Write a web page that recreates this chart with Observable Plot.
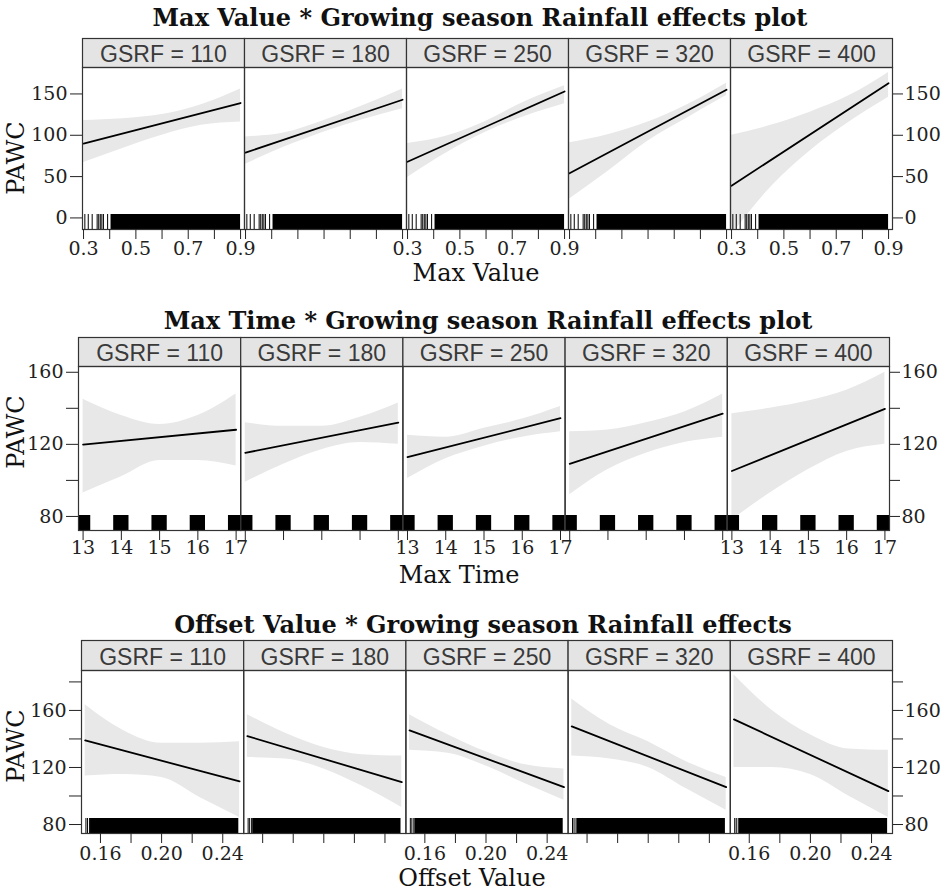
<!DOCTYPE html>
<html><head><meta charset="utf-8">
<script src="https://cdn.jsdelivr.net/npm/d3@7"></script>
<script src="https://cdn.jsdelivr.net/npm/@observablehq/plot@0.6"></script>
<style>
body{margin:0;background:#fff;}
#wrap{position:relative;width:942px;height:892px;overflow:hidden;background:#fff;}
.t{position:absolute;white-space:nowrap;font-family:"DejaVu Serif",serif;color:#111;line-height:1;}
.title{font-weight:bold;font-size:24px;transform:translateX(-50%);}
.xl{font-size:24px;transform:translateX(-50%);}
.yl{font-size:24px;transform:translate(-50%,-50%) rotate(-90deg);}
#wrap svg{position:absolute;left:0;}
</style></head><body><div id="wrap"></div>
<script>
// ---------- data ----------
const gsrf = [110, 180, 250, 320, 400];
const labelPanels = [110, 250, 400];

// Row 1: Max Value
const mvTitle = "Max Value * Growing season Rainfall effects plot";
const mvXLabel = "Max Value";
const mvX = [0.30, 0.45, 0.60, 0.75, 0.90];
const mvFit = [[90, 139], [79, 143], [68, 153], [54, 155], [39, 163]];
const mvUpper = [
  [118, 120, 125, 137, 156],
  [98, 103, 118, 136, 156],
  [90, 99, 117, 141, 160],
  [91, 101, 116, 137, 163],
  [100, 112, 128, 148, 176]
];
const mvLower = [
  [67, 84, 100, 112, 116],
  [65, 86, 104, 119, 132],
  [49, 79, 104, 123, 138],
  [23, 57, 93, 121, 148],
  [-21, 37, 81, 116, 146]
];
const mvTicks = [0.3, 0.4, 0.5, 0.6, 0.7, 0.8, 0.9];
const mvTickLabels = [0.3, 0.5, 0.7, 0.9];
const mvYTicks = [0, 50, 100, 150];
const mvYLabels = [0, 50, 100, 150];
const mvRugTicks = [0.305, 0.318, 0.333, 0.352, 0.358, 0.364, 0.37, 0.376, 0.392];
const mvRugSpans = [[0.405, 0.90]];

// Row 2: Max Time
const mtTitle = "Max Time * Growing season Rainfall effects plot";
const mtXLabel = "Max Time";
const mtX = [13, 14, 15, 16, 17];
const mtFit = [[119.8, 128.1], [115.3, 132], [112.9, 134.5], [109.2, 137], [105.2, 139.7]];
const mtUpper = [
  [145, 136, 131, 136, 148],
  [132, 130, 130, 135, 143],
  [125, 124, 129, 134, 141],
  [127, 128, 132, 138, 148],
  [137, 140, 144, 150, 160]
];
const mtLower = [
  [93, 102, 111, 111, 108],
  [99, 109, 117, 121, 120],
  [101, 112, 119, 124, 127],
  [92, 106, 115, 121, 124],
  [78, 93, 106, 116, 120]
];
const mtTicks = [13, 14, 15, 16, 17];
const mtTickLabels = [13, 14, 15, 16, 17];
const mtYTicks = [80, 100, 120, 140, 160];
const mtYLabels = [80, 120, 160];
const mtRugValues = [13, 14, 15, 16, 17];

// Row 3: Offset Value
const ovTitle = "Offset Value * Growing season Rainfall effects";
const ovXLabel = "Offset Value";
const ovX = [0.150, 0.175, 0.200, 0.225, 0.251];
const ovFit = [[139, 110.2], [142, 109.7], [146, 106.2], [148.8, 106.2], [153.7, 103.4]];
const ovUpper = [
  [164, 146, 137, 137, 138],
  [157, 144, 134, 129, 128],
  [157, 143, 131, 122, 119],
  [168, 150, 138, 124, 113],
  [185, 160, 143, 133, 132]
];
const ovLower = [
  [114, 115, 113, 99, 85],
  [127, 126, 119, 107, 92],
  [132, 130, 121, 109, 97],
  [128, 126, 120, 105, 90],
  [120, 120, 115, 100, 85]
];
const ovTicks = [0.16, 0.18, 0.20, 0.22, 0.24];
const ovTickLabels = [0.16, 0.20, 0.24];
const ovYTicks = [80, 100, 120, 140, 160, 180];
const ovYLabels = [80, 120, 160];
const ovRugTicks = [0.1505, 0.1515, 0.1528];
const ovRugSpans = [[0.1535, 0.2505]];

// ---------- layout ----------
const wrap = document.getElementById("wrap");
const serif = "DejaVu Serif, serif";
const sans = "Liberation Sans, Arial, sans-serif";
const rugHalf = 0.2;   // jitter half-width of the Max Time rug
const rugH = 15;
const tickFont = 19;

function addText(cls, text, left, top) {
  const d = document.createElement("div");
  d.className = "t " + cls;
  d.textContent = text;
  d.style.left = left + "px";
  d.style.top = top + "px";
  wrap.appendChild(d);
}

function makeRow(cfg) {
  const pad = 6;
  const rowTop = cfg.stripTop - pad;
  const stripH = cfg.stripBot - cfg.stripTop;
  const panelH = cfg.panelBot - cfg.stripBot;
  const mT = cfg.stripBot - rowTop;
  const mB = 40;

  const band = [], fit = [];
  gsrf.forEach((g, i) => {
    cfg.xs.forEach((x, j) => band.push({g, x, lo: cfg.lower[i][j], hi: cfg.upper[i][j]}));
    fit.push({g, x: cfg.xs[0], y: cfg.fit[i][0]});
    fit.push({g, x: cfg.xs[cfg.xs.length - 1], y: cfg.fit[i][1]});
  });
  const rugT = [], rugS = [];
  gsrf.forEach(g => {
    cfg.rugTicks.forEach(x => rugT.push({g, x}));
    cfg.rugSpans.forEach(([a, b]) => rugS.push({g, a, b}));
  });
  const xlab = [];
  labelPanels.forEach(g => cfg.tickLabels.forEach(v => xlab.push({g, v})));

  const yfmt = d => cfg.yLabels.includes(d) ? String(d) : "";

  const svg = Plot.plot({
    width: 942,
    height: mT + panelH + mB,
    marginTop: mT,
    marginBottom: mB,
    marginLeft: cfg.x0,
    marginRight: 942 - cfg.x1,
    style: {background: "transparent", overflow: "visible", fontFamily: serif, fontSize: tickFont + "px"},
    fx: {domain: gsrf, padding: 0, axis: null, round: false},
    x: {domain: cfg.xDomain, axis: null},
    y: {domain: cfg.yDomain, axis: null},
    marks: [
      Plot.frame({fill: "#e4e4e4", stroke: "#333", strokeWidth: 1.2, insetTop: -stripH, insetBottom: panelH}),
      Plot.text(gsrf, {fx: d => d, text: d => `GSRF = ${d}`, frameAnchor: "top", lineAnchor: "middle",
        dy: -stripH / 2 + 2, fontSize: 23, fontFamily: sans, fill: "#3a3a3a"}),
      Plot.areaY(band, {fx: "g", x: "x", y1: "lo", y2: "hi", fill: "#e8e8e8", curve: "monotone-x", clip: true}),
      Plot.line(fit, {fx: "g", x: "x", y: "y", stroke: "#000", strokeWidth: 1.8, clip: true}),
      Plot.rect(rugS, {fx: "g", x1: "a", x2: "b", fill: "#000", insetTop: panelH - rugH, clip: true}),
      Plot.tickX(rugT, {fx: "g", x: "x", stroke: "#000", strokeWidth: 1, insetTop: panelH - rugH, clip: true}),
      Plot.frame({stroke: "#333", strokeWidth: 1.2}),
      Plot.axisY({anchor: "left", ticks: cfg.yTicks, tickFormat: yfmt, tickSize: 12, tickPadding: 3,
        label: null, color: "#222", fontSize: tickFont}),
      Plot.axisY({anchor: "right", ticks: cfg.yTicks, tickFormat: yfmt, tickSize: 10, tickPadding: 2,
        label: null, color: "#222", fontSize: tickFont}),
      Plot.axisX({anchor: "bottom", ticks: cfg.xTicks, tickFormat: () => "", tickSize: 10,
        label: null, color: "#222"}),
      Plot.text(xlab, {fx: "g", x: "v", text: d => cfg.fmt(d.v), frameAnchor: "bottom",
        lineAnchor: "top", dy: cfg.labelDy, fontSize: tickFont, fill: "#222"})
    ]
  });
  svg.style.top = rowTop + "px";
  wrap.appendChild(svg);

  addText("title", cfg.title, cfg.titleX, cfg.titleTop);
  addText("xl", cfg.xLabel, cfg.xLabelX, cfg.xLabelTop);
  addText("yl", "PAWC", 16, cfg.yLabelY);
}

// Max Time rug as jittered spans around each integer value
const mtRugSpans = mtRugValues.map(v => [v - rugHalf, v + rugHalf]);

makeRow({
  title: mvTitle, titleX: 480, titleTop: 6,
  xLabel: mvXLabel, xLabelX: 476, xLabelTop: 261, yLabelY: 158,
  stripTop: 38, stripBot: 67, panelBot: 229, x0: 82, x1: 892,
  xDomain: [0.296, 0.915], yDomain: [-14, 182],
  xs: mvX, fit: mvFit, upper: mvUpper, lower: mvLower,
  xTicks: mvTicks, tickLabels: mvTickLabels, yTicks: mvYTicks, yLabels: mvYLabels,
  rugTicks: mvRugTicks, rugSpans: mvRugSpans, fmt: d3.format(".1f"), labelDy: 12
});
makeRow({
  title: mtTitle, titleX: 488, titleTop: 309,
  xLabel: mtXLabel, xLabelX: 459, xLabelTop: 563, yLabelY: 432,
  stripTop: 337, stripBot: 366, panelBot: 530, x0: 78, x1: 889,
  xDomain: [12.88, 17.12], yDomain: [72.2, 163.2],
  xs: mtX, fit: mtFit, upper: mtUpper, lower: mtLower,
  xTicks: mtTicks, tickLabels: mtTickLabels, yTicks: mtYTicks, yLabels: mtYLabels,
  rugTicks: [], rugSpans: mtRugSpans, fmt: d => String(d), labelDy: 10
});
makeRow({
  title: ovTitle, titleX: 483, titleTop: 613,
  xLabel: ovXLabel, xLabelX: 472, xLabelTop: 866, yLabelY: 746,
  stripTop: 640, stripBot: 670, panelBot: 833, x0: 81, x1: 892,
  xDomain: [0.1476, 0.2537], yDomain: [73.7, 188],
  xs: ovX, fit: ovFit, upper: ovUpper, lower: ovLower,
  xTicks: ovTicks, tickLabels: ovTickLabels, yTicks: ovYTicks, yLabels: ovYLabels,
  rugTicks: ovRugTicks, rugSpans: ovRugSpans, fmt: d3.format(".2f"), labelDy: 13
});
</script></body></html>
